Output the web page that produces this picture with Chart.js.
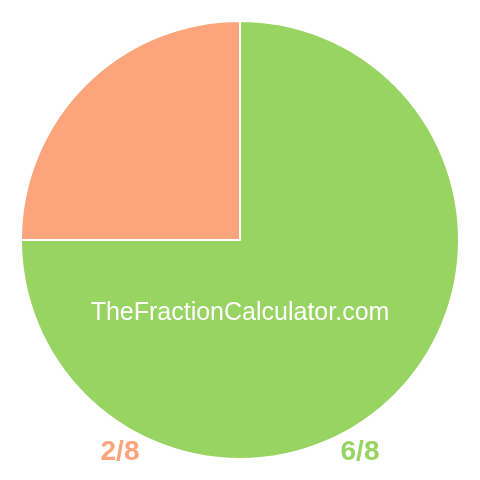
<!DOCTYPE html>
<html>
<head>
<meta charset="utf-8">
<script src="https://cdn.jsdelivr.net/npm/chart.js@4"></script>
<style>
  html, body { margin: 0; padding: 0; background: #fff; }
  #wrap { width: 480px; height: 480px; }
</style>
</head>
<body>
<div id="wrap"><canvas id="chart"></canvas></div>
<script>
// fractions shown in the pie
const labels = ['6/8', '2/8'];
const values = [6, 2];
const colors = ['#98d462', '#fca47c'];
const watermark = 'TheFractionCalculator.com';

// label text under the pie, drawn with the slice colour
const footerLabels = {
  id: 'footerLabels',
  afterDraw(chart) {
    const ctx = chart.ctx;
    ctx.save();
    ctx.textAlign = 'center';
    ctx.textBaseline = 'alphabetic';

    ctx.fillStyle = '#ffffff';
    ctx.font = '25px "Liberation Sans", Arial, sans-serif';
    ctx.fillText(watermark, 240, 320);

    ctx.font = 'bold 28px "Liberation Sans", Arial, sans-serif';
    ctx.fillStyle = colors[1];
    ctx.fillText(labels[1], 120, 460);
    ctx.fillStyle = colors[0];
    ctx.fillText(labels[0], 360, 460);
    ctx.restore();
  }
};

new Chart(document.getElementById('chart'), {
  type: 'pie',
  data: {
    labels: labels,
    datasets: [{
      data: values,
      backgroundColor: colors,
      borderColor: '#ffffff',
      borderWidth: 2,
      hoverOffset: 0
    }]
  },
  options: {
    responsive: true,
    maintainAspectRatio: false,
    animation: false,
    radius: 219,
    plugins: {
      legend: { display: false },
      tooltip: { enabled: false }
    }
  },
  plugins: [footerLabels]
});
</script>
</body>
</html>
